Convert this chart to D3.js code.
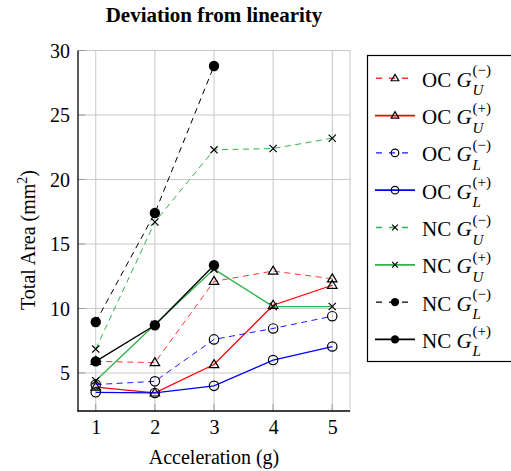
<!DOCTYPE html>
<html>
<head>
<meta charset="utf-8">
<script src="https://cdn.jsdelivr.net/npm/d3@7"></script>
<style>
  html, body { margin: 0; padding: 0; background: #fff; }
  text { font-family: "Liberation Serif", "DejaVu Serif", serif; fill: #000; }
</style>
</head>
<body>
<svg id="chart" width="511" height="471"></svg>
<script>
// ---- data ----
const accel = [1, 2, 3, 4, 5];
const xTicks = [1, 2, 3, 4, 5];
const yTicks = [5, 10, 15, 20, 25, 30];

const ocGUminus = [5.9, 5.8, 12.1, 12.9, 12.3];
const ocGUplus  = [3.9, 3.45, 5.65, 10.25, 11.8];
const ocGLminus = [4.1, 4.35, 7.6, 8.45, 9.4];
const ocGLplus  = [3.5, 3.45, 4.0, 6.0, 7.05];
const ncGUminus = [6.85, 16.7, 22.3, 22.4, 23.2];
const ncGUplus  = [4.4, 8.75, 13.05, 10.15, 10.15];
const ncGLminus = [8.95, 17.4, 28.8];
const ncGLplus  = [5.9, 8.7, 13.35];

const seriesNames = ["OC", "OC", "OC", "OC", "NC", "NC", "NC", "NC"];
const seriesSub   = ["U", "U", "L", "L", "U", "U", "L", "L"];
const seriesSup   = ["(−)", "(+)", "(−)", "(+)", "(−)", "(+)", "(−)", "(+)"];
const seriesValues = [ocGUminus, ocGUplus, ocGLminus, ocGLplus, ncGUminus, ncGUplus, ncGLminus, ncGLplus];

const title = "Deviation from linearity";
const xLabel = "Acceleration (g)";

// ---- styles ----
const RED = "#ff0000", BLUE = "#0000ff", GREEN = "#2fb24a", BLACK = "#000000";
const styles = [
  {color: RED,   dash: "6,4.5", width: 1.0, mark: "triangle", opacity: 0.8},
  {color: RED,   dash: null,    width: 1.3, mark: "triangle", opacity: 1},
  {color: BLUE,  dash: "6,4.5", width: 1.0, mark: "circle", opacity: 0.9},
  {color: BLUE,  dash: null,    width: 1.3, mark: "circle", opacity: 1},
  {color: GREEN, dash: "6,4.5", width: 1.0, mark: "cross", opacity: 1},
  {color: GREEN, dash: null,    width: 1.3, mark: "cross", opacity: 1},
  {color: BLACK, dash: "6,4.5", width: 1.0, mark: "dot", opacity: 1},
  {color: BLACK, dash: null,    width: 1.3, mark: "dot", opacity: 1}
];

const svg = d3.select("#chart");
const L = 78, R = 350, T = 50.5, B = 411;
const x = d3.scaleLinear().domain([0.7, 5.3]).range([L, R]);
const y = d3.scaleLinear().domain([2.05, 30]).range([B, T]);

// grid
const grid = svg.append("g");
grid.selectAll(".gx").data(xTicks).enter().append("line")
  .attr("x1", d => x(d)).attr("x2", d => x(d)).attr("y1", T).attr("y2", B)
  .attr("stroke", "#c8c8c8").attr("stroke-width", 1);
grid.selectAll(".gy").data(yTicks).enter().append("line")
  .attr("x1", L).attr("x2", R).attr("y1", d => y(d)).attr("y2", d => y(d))
  .attr("stroke", "#c8c8c8").attr("stroke-width", 1);
// frame top/right (gray)
grid.append("line").attr("x1", R).attr("x2", R).attr("y1", T).attr("y2", B).attr("stroke", "#c8c8c8");
grid.append("line").attr("x1", L).attr("x2", R).attr("y1", T).attr("y2", T).attr("stroke", "#c8c8c8");

// inner tick marks
grid.selectAll(".ty").data(yTicks).enter().append("line")
  .attr("x1", L).attr("x2", L + 7).attr("y1", d => y(d)).attr("y2", d => y(d))
  .attr("stroke", "#9a9a9a").attr("stroke-width", 1);
grid.selectAll(".tx").data(xTicks).enter().append("line")
  .attr("x1", d => x(d)).attr("x2", d => x(d)).attr("y1", B).attr("y2", B - 7)
  .attr("stroke", "#9a9a9a").attr("stroke-width", 1);

// axes lines (left and bottom, black)
svg.append("line").attr("x1", L).attr("x2", L).attr("y1", T).attr("y2", B + 0.5)
  .attr("stroke", "#000").attr("stroke-width", 1.3);
svg.append("line").attr("x1", L - 0.5).attr("x2", R).attr("y1", B).attr("y2", B)
  .attr("stroke", "#000").attr("stroke-width", 1.3);

// tick labels via d3 axes (domain/ticks hidden)
const xAxis = svg.append("g").attr("transform", `translate(0,${B})`)
  .call(d3.axisBottom(x).tickValues(xTicks).tickSize(0).tickPadding(9).tickFormat(d3.format("d")));
const yAxis = svg.append("g").attr("transform", `translate(${L},0)`)
  .call(d3.axisLeft(y).tickValues(yTicks).tickSize(0).tickPadding(8).tickFormat(d3.format("d")));
[xAxis, yAxis].forEach(a => {
  a.select(".domain").remove();
  a.selectAll("text").attr("font-family", "Liberation Serif").attr("font-size", 20).attr("fill", "#000");
});
xAxis.selectAll("text").attr("dy", "0.71em");
yAxis.selectAll("text").attr("dy", "0.34em");

// marker drawing
function drawMark(g, type, cx, cy, scale) {
  const s = scale || 1;
  if (type === "triangle") {
    const h = 8 * s, w = 9.5 * s;
    g.append("path")
      .attr("d", `M${cx},${cy - h * 0.62}L${cx + w / 2},${cy + h * 0.38}L${cx - w / 2},${cy + h * 0.38}Z`)
      .attr("fill", "none").attr("stroke", "#000").attr("stroke-width", 1.2);
  } else if (type === "circle") {
    g.append("circle").attr("cx", cx).attr("cy", cy).attr("r", 4.7 * s)
      .attr("fill", "none").attr("stroke", "#000").attr("stroke-width", 1.2);
  } else if (type === "cross") {
    const r = 3.6 * s;
    g.append("path")
      .attr("d", `M${cx - r},${cy - r}L${cx + r},${cy + r}M${cx - r},${cy + r}L${cx + r},${cy - r}`)
      .attr("fill", "none").attr("stroke", "#000").attr("stroke-width", 1.2);
  } else if (type === "dot") {
    g.append("circle").attr("cx", cx).attr("cy", cy).attr("r", 5.2 * s).attr("fill", "#000");
  }
}

// series
const plot = svg.append("g");
seriesValues.forEach((vals, i) => {
  const st = styles[i];
  const pts = vals.map((v, j) => [accel[j], v]);
  const line = d3.line().x(d => x(d[0])).y(d => y(d[1]));
  const p = plot.append("path").datum(pts).attr("d", line)
    .attr("fill", "none").attr("stroke", st.color).attr("stroke-width", st.width)
    .attr("stroke-opacity", st.opacity);
  if (st.dash) p.attr("stroke-dasharray", st.dash);
  const mg = plot.append("g");
  pts.forEach(d => drawMark(mg, st.mark, x(d[0]), y(d[1]), 1));
});

// title
svg.append("text").attr("x", (L + R) / 2).attr("y", 22).attr("text-anchor", "middle")
  .attr("font-size", 21).attr("font-weight", "bold").text(title);

// x label
svg.append("text").attr("x", (L + R) / 2).attr("y", 464).attr("text-anchor", "middle")
  .attr("font-size", 20).text(xLabel);

// y label
const yl = svg.append("text").attr("transform", `translate(35,240) rotate(-90)`)
  .attr("text-anchor", "middle").attr("font-size", 20);
yl.append("tspan").text("Total Area (mm");
yl.append("tspan").attr("dy", -8).attr("font-size", 14).text("2");
yl.append("tspan").attr("dy", 8).text(")");

// legend
const lg = svg.append("g");
lg.append("rect").attr("x", 367.5).attr("y", 55.5).attr("width", 160).attr("height", 306)
  .attr("fill", "#fff").attr("stroke", "#000").attr("stroke-width", 1.2);
const rowY0 = 78.3, rowDy = 37.3;
seriesValues.forEach((vals, i) => {
  const st = styles[i];
  const cy = rowY0 + i * rowDy;
  const ln = lg.append("line").attr("x1", 375).attr("x2", 415).attr("y1", cy).attr("y2", cy)
    .attr("stroke", st.color).attr("stroke-width", st.width + 0.4).attr("stroke-opacity", st.opacity);
  if (st.dash) ln.attr("stroke-dasharray", "6,7").attr("stroke-dashoffset", -1);
  drawMark(lg, st.mark, 395, cy, 0.8);
  const t = lg.append("text").attr("x", 422).attr("y", cy + 8.5).attr("font-size", 21);
  t.append("tspan").text(seriesNames[i] + " ");
  t.append("tspan").attr("font-style", "italic").text("G");
  const w = t.node().getComputedTextLength();
  lg.append("text").attr("x", 422 + w + 1).attr("y", cy - 3).attr("font-size", 15).text(seriesSup[i]);
  lg.append("text").attr("x", 422 + w + 1).attr("y", cy + 17).attr("font-size", 15)
    .attr("font-style", "italic").text(seriesSub[i]);
});
</script>
</body>
</html>
